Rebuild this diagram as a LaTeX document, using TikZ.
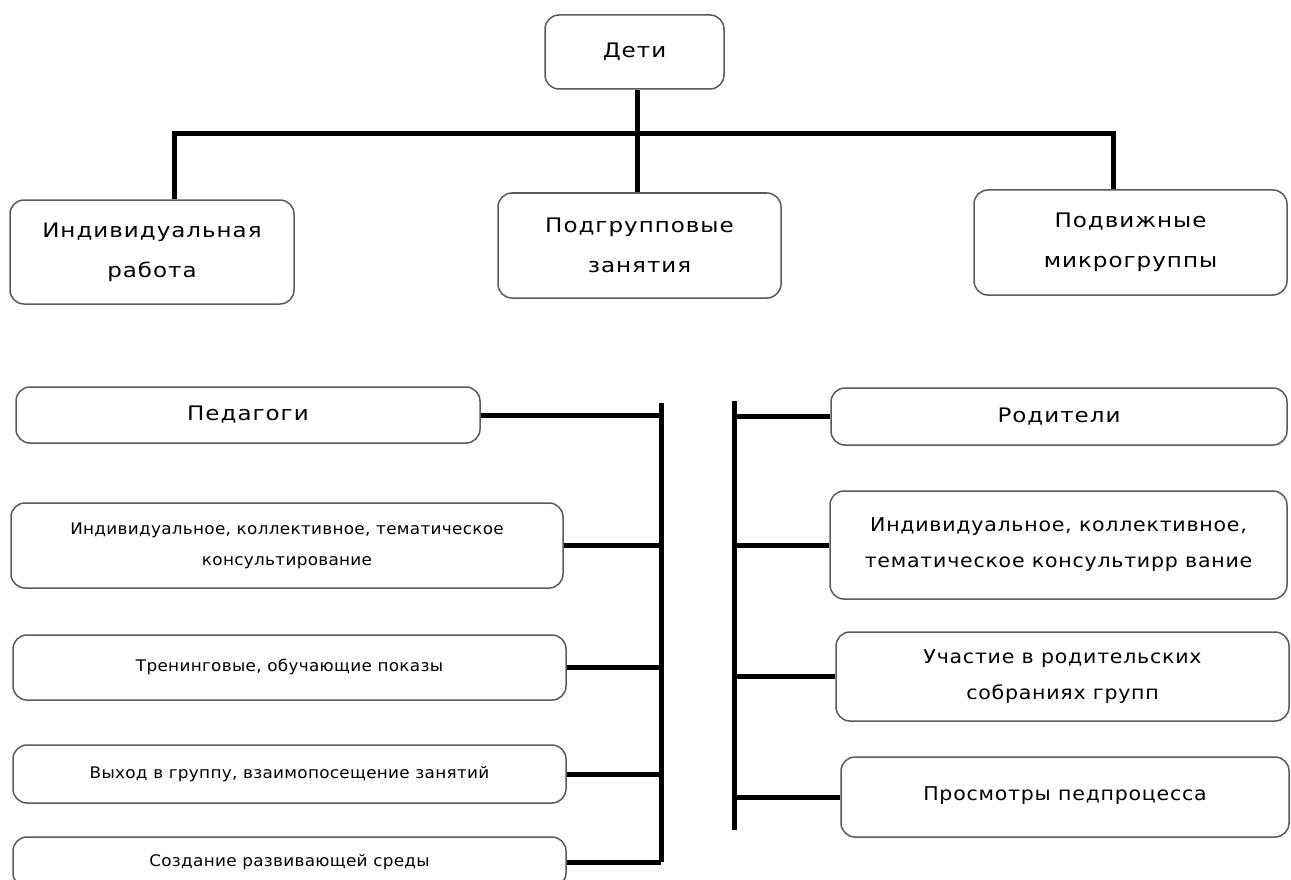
\documentclass[tikz,border=0pt]{standalone}
\usepackage{fontspec}
\setmainfont{DejaVu Sans}
\newfontfamily\bigfam[FakeStretch=1.15,LetterSpace=5]{DejaVu Sans}
\newfontfamily\midfam[FakeStretch=1.08,LetterSpace=4]{DejaVu Sans}
\newfontfamily\smallfam[FakeStretch=1.05,LetterSpace=2]{DejaVu Sans}
\definecolor{boxgray}{HTML}{5A5A5A}
\begin{document}
\begin{tikzpicture}[x=1pt,y=-1pt,
  box/.style={draw=boxgray, line width=1.5pt, rounded corners=14pt, fill=white, align=center, inner sep=0pt},
  conn/.style={line width=5pt, draw=black},
  bigtxt/.style={font=\bigfam\fontsize{20}{40}\selectfont},
  midtxt/.style={font=\midfam\fontsize{19}{36}\selectfont},
  smalltxt/.style={font=\smallfam\fontsize{16}{31}\selectfont}]
\useasboundingbox (0,0) rectangle (1291,880);
% top level
\node[box, bigtxt, minimum width=179pt, minimum height=74pt] (deti) at (634.5,52) {Дети};
\node[box, bigtxt, minimum width=284pt, minimum height=104pt] (ind) at (152,252) {Индивидуальная\\работа};
\node[box, bigtxt, minimum width=283pt, minimum height=105pt] (sub) at (639.5,245.5) {Подгрупповые\\занятия};
\node[box, bigtxt, minimum width=313pt, minimum height=105pt] (mob) at (1130.5,242.5) {Подвижные\\микрогруппы};
% pedagogues
\node[box, bigtxt, minimum width=464pt, minimum height=56pt] (ped) at (248,415) {Педагоги};
\node[box, smalltxt, minimum width=552pt, minimum height=85pt] (p2) at (287,545.5) {Индивидуальное, коллективное, тематическое\\консультирование};
\node[box, smalltxt, minimum width=553pt, minimum height=65pt] (p3) at (289.5,667.5) {\raisebox{5pt}{Тренинговые, обучающие показы}};
\node[box, smalltxt, minimum width=553pt, minimum height=58pt] (p4) at (289.5,774) {Выход в группу, взаимопосещение занятий};
\node[box, smalltxt, minimum width=553pt, minimum height=50pt] (p5) at (289.5,862) {Создание развивающей среды};
% parents
\node[box, bigtxt, minimum width=456pt, minimum height=57pt] (r1) at (1059,416.5) {Родители};
\node[box, midtxt, minimum width=457pt, minimum height=108pt] (r2) at (1058.5,545) {Индивидуальное, коллективное,\\тематическое консультирр вание};
\node[box, midtxt, minimum width=453pt, minimum height=89pt] (r3) at (1062.5,676.5) {Участие в родительских\\собраниях групп};
\node[box, midtxt, minimum width=448pt, minimum height=80pt] (r4) at (1065,797) {\raisebox{6pt}{Просмотры педпроцесса}};
% top connectors
\coordinate (hbL) at (174,134);
\coordinate (hbR) at (1113,134);
\coordinate (hbM) at (637,134);
\draw[conn] (hbL |- ind.north) -- (hbL) -- (hbR) -- (hbR |- mob.north);
\draw[conn] (hbM |- deti.south) -- (hbM |- sub.north);
% left bus
\coordinate (lt) at (661,403);
\coordinate (lb) at (661,862);
\draw[conn] (lt) -- (lb);
\draw[conn] (ped.east) -- (ped.east -| lt);
\draw[conn] (p2.east) -- (p2.east -| lt);
\draw[conn] (p3.east) -- (p3.east -| lt);
\draw[conn] (p4.east) -- (p4.east -| lt);
\draw[conn] (p5.east) -- (p5.east -| lt);
% right bus
\coordinate (rt) at (734,401);
\coordinate (rb) at (734,830);
\draw[conn] (rt) -- (rb);
\draw[conn] (r1.west -| rt) -- (r1.west);
\draw[conn] (r2.west -| rt) -- (r2.west);
\draw[conn] (r3.west -| rt) -- (r3.west);
\draw[conn] (r4.west -| rt) -- (r4.west);
\end{tikzpicture}
\end{document}
